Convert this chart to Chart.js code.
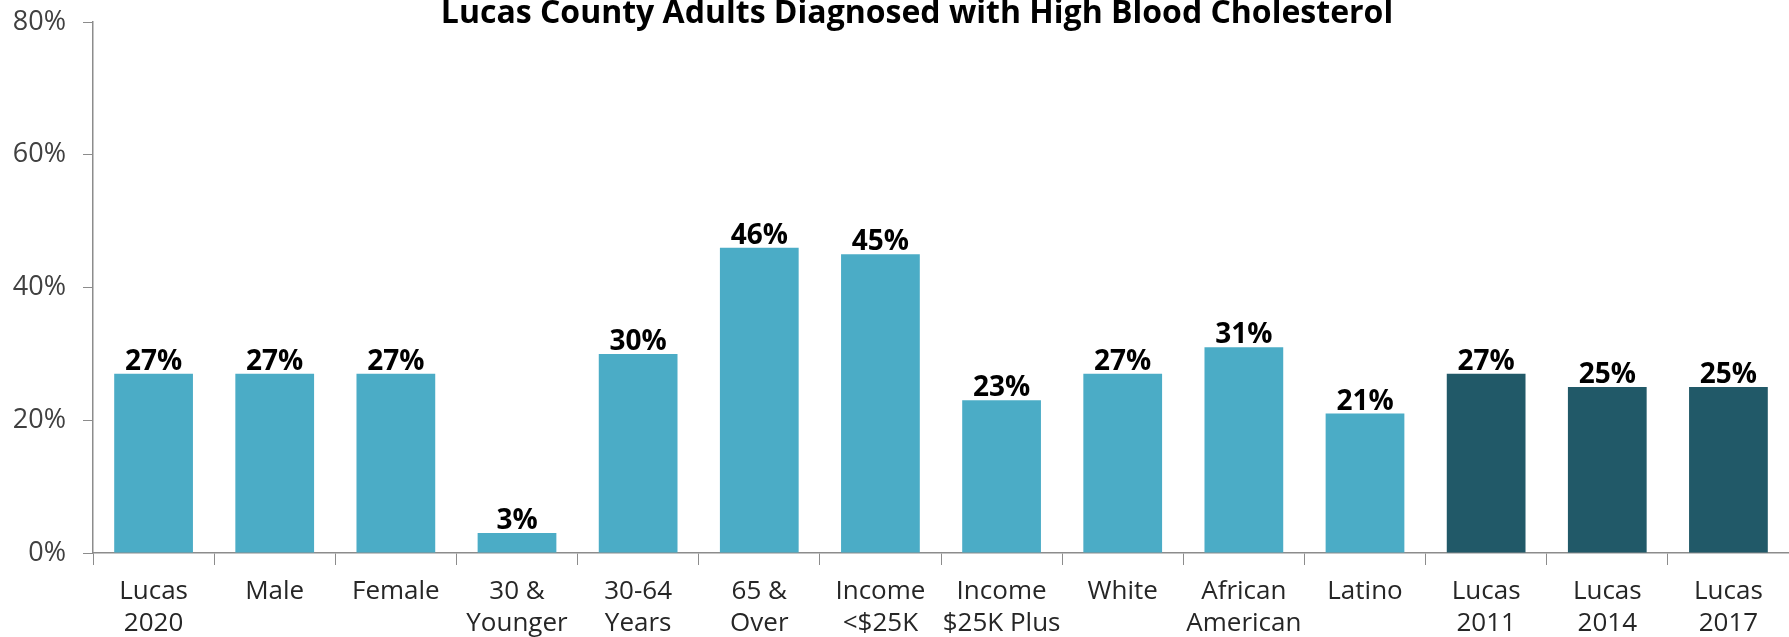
<!DOCTYPE html>
<html>
<head>
<meta charset="utf-8">
<script src="https://cdn.jsdelivr.net/npm/chart.js@4/dist/chart.umd.min.js"></script>
<style>
    html, body { margin: 0; padding: 0; background: #fff; }
    #wrap { width: 1789px; height: 637px; }
</style>
</head>
<body>
<div id="wrap"><canvas id="cholChart" width="1789" height="637"></canvas></div>
<script>
// Chart data
const chartTitle = 'Lucas County Adults Diagnosed with High Blood Cholesterol';
const categories = [
    ['Lucas', '2020'], 'Male', 'Female', ['30 &', 'Younger'], ['30-64', 'Years'],
    ['65 &', 'Over'], ['Income', '<$25K'], ['Income', '$25K Plus'], 'White',
    ['African', 'American'], 'Latino', ['Lucas', '2011'], ['Lucas', '2014'], ['Lucas', '2017']
];
const percentValues = [27, 27, 27, 3, 30, 46, 45, 23, 27, 31, 21, 27, 25, 25];
const isTrendYear = [false, false, false, false, false, false, false, false, false, false, false, true, true, true];
const yTicks = [0, 20, 40, 60, 80];

const lightBar = '#4BACC6';
const darkBar = '#215968';
const axisGrey = '#8c8c8c';
const fontFamily = '"Open Sans", "Noto Sans", sans-serif';

// Title drawn over the top of the plot (it overlaps the y range like the original)
const titlePlugin = {
    id: 'topTitle',
    afterDraw(chart) {
        const ctx = chart.ctx;
        ctx.save();
        ctx.font = `bold 32px ${fontFamily}`;
        ctx.fillStyle = '#000';
        ctx.textAlign = 'center';
        ctx.textBaseline = 'alphabetic';
        ctx.fillText(chartTitle, 917, 23);
        ctx.restore();
    }
};

// Value labels above bars
const valueLabels = {
    id: 'valueLabels',
    afterDatasetsDraw(chart) {
        const ctx = chart.ctx;
        const meta = chart.getDatasetMeta(0);
        ctx.save();
        ctx.font = `bold 28px ${fontFamily}`;
        ctx.fillStyle = '#000';
        ctx.textAlign = 'center';
        ctx.textBaseline = 'alphabetic';
        meta.data.forEach((bar, i) => {
            ctx.fillText(percentValues[i] + '%', bar.x, bar.y - 4);
        });
        ctx.restore();
    }
};

const ctx = document.getElementById('cholChart').getContext('2d');
new Chart(ctx, {
    type: 'bar',
    data: {
        labels: categories,
        datasets: [{
            data: percentValues,
            backgroundColor: isTrendYear.map(t => t ? darkBar : lightBar),
            borderWidth: 0,
            categoryPercentage: 1,
            barPercentage: 0.65
        }]
    },
    options: {
        responsive: false,
        animation: false,
        layout: {
            padding: { top: 22, right: 0, left: 0, bottom: 0 }
        },
        plugins: {
            legend: { display: false },
            title: { display: false },
            tooltip: { enabled: false }
        },
        scales: {
            x: {
                afterFit: (scale) => { scale.height = 84; },
                border: { color: axisGrey, width: 1.5 },
                grid: {
                    offset: true,
                    drawOnChartArea: false,
                    drawTicks: true,
                    tickLength: 12,
                    color: axisGrey
                },
                ticks: {
                    color: '#262626',
                    padding: 10,
                    maxRotation: 0,
                    autoSkip: false,
                    font: { family: fontFamily, size: 26, lineHeight: 1.25 }
                }
            },
            y: {
                min: 0,
                max: 80,
                afterFit: (scale) => { scale.width = 93; },
                afterBuildTicks: (scale) => {
                    scale.ticks = yTicks.map(v => ({ value: v }));
                },
                border: { color: axisGrey, width: 1.5 },
                grid: {
                    drawOnChartArea: false,
                    drawTicks: true,
                    tickLength: 10,
                    color: axisGrey
                },
                ticks: {
                    color: '#404040',
                    padding: 17,
                    callback: (value) => value + '%',
                    // tiny line height so the top label adds no extra layout padding
                    font: { family: fontFamily, size: 27, lineHeight: 0.1 }
                }
            }
        }
    },
    plugins: [titlePlugin, valueLabels]
});
</script>
</body>
</html>
